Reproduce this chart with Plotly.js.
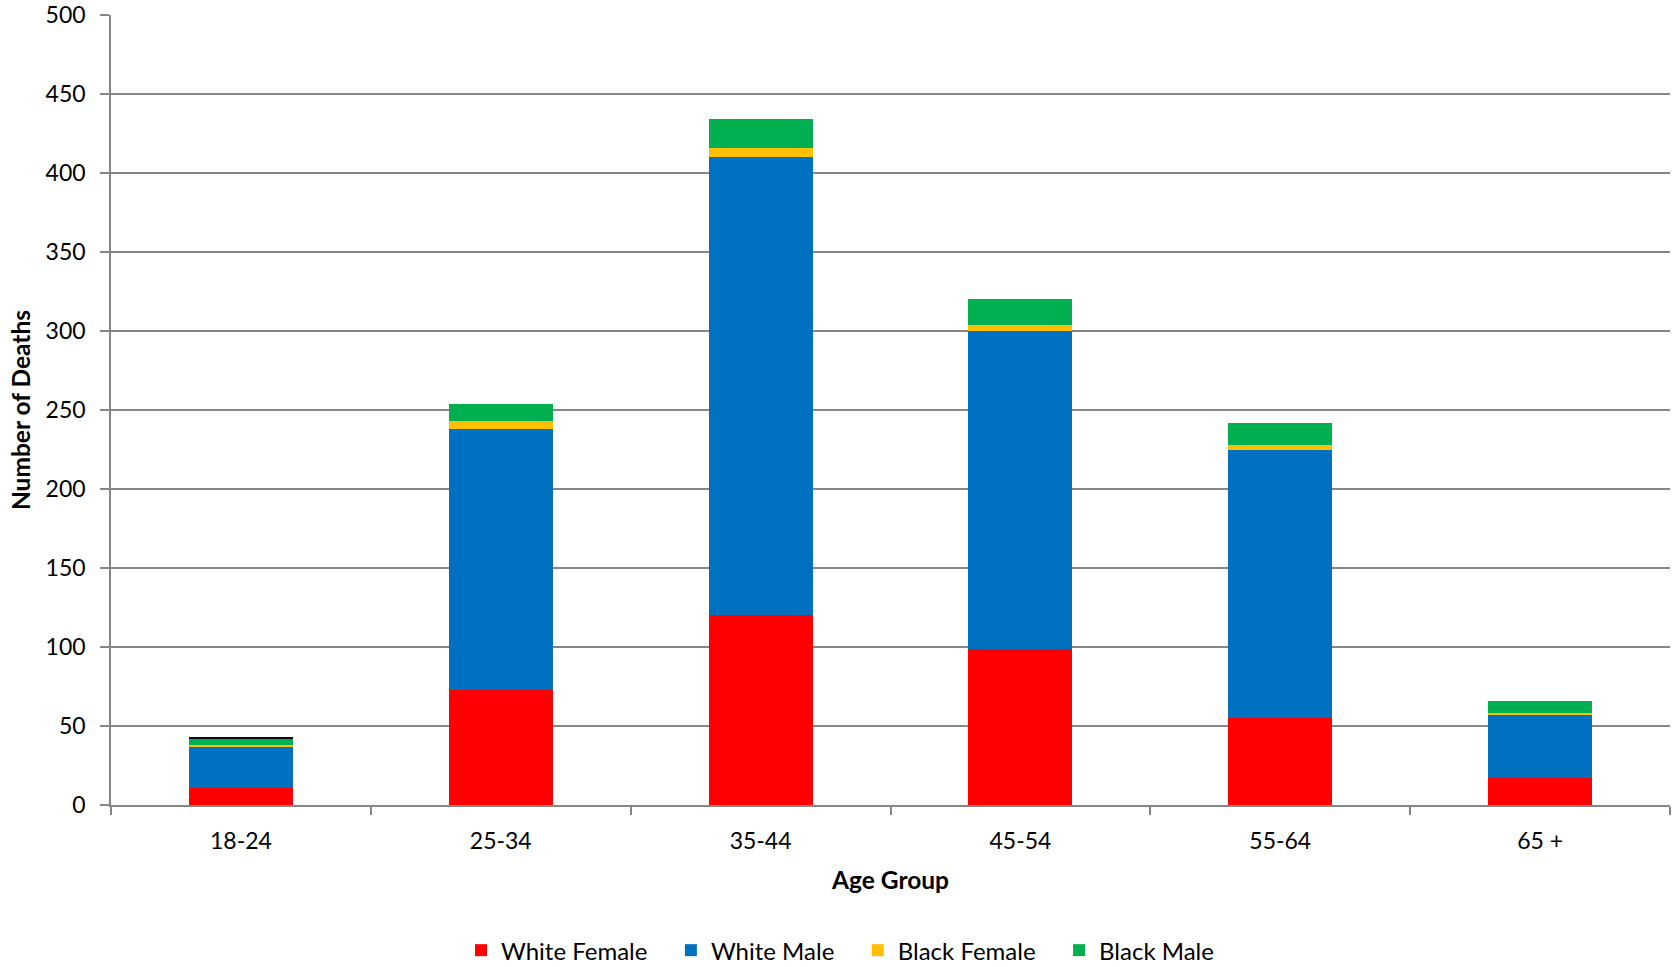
<!DOCTYPE html>
<html>
<head>
<meta charset="utf-8">
<script src="https://cdn.plot.ly/plotly-3.0.1.min.js"></script>
<style>html,body{margin:0;padding:0;background:#fff;}#chart{width:1675px;height:967px;}</style>
</head>
<body>
<div id="chart"></div>
<script>
const ageGroups = ["18-24", "25-34", "35-44", "45-54", "55-64", "65 +"];
const seriesNames = ["White Female", "White Male", "Black Female", "Black Male"];
const whiteFemale = [11, 73, 120, 99, 55, 17];
const whiteMale = [26, 165, 290, 201, 170, 40];
const blackFemale = [1, 5, 6, 4, 3, 1];
const blackMale = [4, 11, 18, 16, 14, 8];
const other = [1, 0, 0, 0, 0, 0];
const yTicks = [0, 50, 100, 150, 200, 250, 300, 350, 400, 450, 500];

const FONT = "Lato, 'Open Sans', sans-serif";
const PAD = "\u00A0\u00A0\u00A0";
function bar(name, y, color, showlegend, pad) {
  return {type: "bar", name: name + (pad ? PAD : ""), x: ageGroups, y: y,
          marker: {color: color, line: {width: 0}},
          showlegend: showlegend, hovertemplate: "%{x}: %{y}<extra>" + name + "</extra>"};
}
const data = [
  bar(seriesNames[0], whiteFemale, "#FF0000", true, true),
  bar(seriesNames[1], whiteMale, "#0070C0", true, true),
  bar(seriesNames[2], blackFemale, "#FFC000", true, true),
  bar(seriesNames[3], blackMale, "#00B050", true, false),
  bar("Other", other, "#0a0a14", false, false)
];
const layout = {
  width: 1675, height: 967,
  barmode: "stack", bargap: 0.6,
  paper_bgcolor: "#fff", plot_bgcolor: "#fff",
  font: {family: FONT, size: 23, color: "#000"},
  margin: {l: 111, r: 5, t: 15, b: 162, autoexpand: false},
  xaxis: {
    type: "category", tickson: "boundaries", ticks: "outside", ticklen: 8, tickcolor: "#868686", tickwidth: 1.5,
    showline: true, linecolor: "#868686", linewidth: 1.5, showgrid: false, automargin: false,
    tickfont: {family: FONT, size: 23}, ticklabelstandoff: 15,
    title: {text: "<b>Age Group</b>", font: {family: FONT, size: 24.5}, standoff: 19}
  },
  yaxis: {
    range: [0, 500], tickvals: yTicks, ticks: "outside", ticklen: 9, tickcolor: "#868686", tickwidth: 1.5,
    showline: true, linecolor: "#868686", linewidth: 1.5, automargin: false,
    showgrid: true, gridcolor: "#868686", gridwidth: 1.5, zeroline: false,
    tickfont: {family: FONT, size: 23}, ticklabelstandoff: 10,
    title: {text: "<b>Number of Deaths</b>", font: {family: FONT, size: 24.5}, standoff: 8}
  },
  legend: {
    orientation: "h", x: 0.4676, xanchor: "center", yref: "container", y: 0.017, yanchor: "middle",
    font: {family: FONT, size: 24}, traceorder: "normal"
  }
};
Plotly.newPlot("chart", data, layout, {displayModeBar: false});
</script>
</body>
</html>
